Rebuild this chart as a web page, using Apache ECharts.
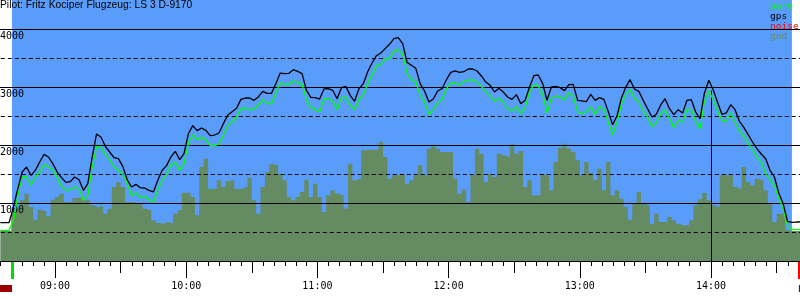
<!DOCTYPE html>
<html><head><meta charset="utf-8">
<style>html,body{margin:0;padding:0;background:#fff}#c{width:800px;height:300px}</style>
<script src="https://cdn.jsdelivr.net/npm/echarts@6/dist/echarts.min.js"></script>
</head><body><div id="c"></div>
<script>
const titleText = 'Pilot: Fritz Kociper Flugzeug: LS 3 D-9170';
const sampleStart = '08:35';
const sampleStepMin = 2;
const gps = [661,661,661,931,1247,1534,1621,1477,1563,1707,1839,1793,1678,1534,1437,1356,1368,1448,1402,1218,
1333,1793,2190,2138,1977,1879,1782,1764,1632,1402,1276,1322,1264,1259,1218,1190,1391,1563,1644,1793,
1891,1747,1851,2195,2333,2247,2293,2253,2161,2172,2207,2368,2517,2575,2632,2787,2810,2810,2770,2828,
2925,2891,2891,3057,3241,3230,3236,3299,3270,3230,2943,2822,2816,2793,2966,2971,2943,2799,2989,3011,
2856,2753,2971,3057,3264,3414,3540,3586,3661,3736,3833,3851,3747,3425,3374,3322,3057,2931,2741,2793,
2931,2971,3126,3253,3276,3253,3264,3310,3310,3276,3190,3086,3029,2914,2977,2914,2828,2787,2868,2713,
2770,3000,3195,3207,3063,2770,3000,3011,2989,2937,3040,3046,2770,2759,2747,2874,2770,2816,2787,2580,
2350,2500,2805,2994,3126,2966,2925,2770,2626,2483,2529,2690,2799,2626,2523,2609,2552,2770,2782,2569,
2454,2897,3115,2954,2736,2529,2552,2695,2609,2408,2305,2178,2052,1937,1845,1764,1563,1448,1172,989,
684,667,672,672];
const baro = [529,529,529,701,1132,1448,1448,1305,1448,1534,1667,1621,1575,1437,1287,1218,1230,1276,1241,1046,
1132,1621,1966,1966,1839,1747,1621,1563,1494,1333,1132,1172,1103,1115,1057,1017,1218,1391,1500,1649,
1707,1563,1678,2034,2184,2092,2132,2092,1989,1989,2017,2167,2339,2402,2471,2626,2638,2603,2621,2684,
2787,2713,2713,2897,3069,3046,3046,3098,3080,3046,2782,2649,2609,2569,2793,2799,2753,2609,2816,2828,
2684,2609,2793,2856,3063,3213,3368,3385,3489,3489,3615,3644,3563,3241,3132,3092,2856,2747,2529,2615,
2724,2787,2971,3063,3069,3040,3092,3121,3121,3080,3011,2914,2856,2753,2805,2741,2621,2592,2661,2540,
2644,2914,3040,3017,2874,2552,2810,2845,2828,2782,2902,2845,2569,2534,2580,2661,2529,2661,2621,2397,
2178,2385,2707,2868,2954,2810,2741,2586,2477,2316,2385,2534,2609,2448,2299,2431,2397,2609,2609,2402,
2282,2759,2937,2782,2580,2425,2414,2557,2397,2236,2161,2034,1914,1793,1701,1506,1402,1299,1086,891,
609,540,540,540];
const gnd = [517,517,517,816,902,1046,1161,931,713,885,862,770,1057,1103,1161,1017,1017,1086,1092,1046,
1046,960,931,943,816,902,1276,1362,1276,1017,1017,1000,989,902,874,701,661,644,672,661,
816,874,1178,1178,1103,787,1621,1764,1247,1247,1391,1276,1379,1391,1247,1247,1276,1437,1046,816,
1276,1534,1667,1661,1506,1391,1103,1046,1103,1190,1402,1103,1333,1103,845,1132,1218,1161,1132,902,
1678,1391,1420,1908,1920,1920,1920,2052,1793,1420,1477,1477,1506,1333,1391,1477,1649,1477,1937,2006,
1937,1879,1879,1879,1420,1161,1230,1017,1477,1937,1851,1362,1506,1448,1851,1822,1793,2011,1851,1897,
1276,1391,1132,1132,1494,1477,1218,1707,1954,2023,1937,1879,1736,1477,1707,1517,1391,1592,1218,1707,
1132,1218,1075,931,713,989,1190,989,960,644,816,672,672,759,701,644,615,615,701,960,
1063,1172,1046,960,931,1477,1477,1477,1276,1247,1621,1362,1305,1420,1391,1218,989,672,816,816,
529,517,517,517];
const noise = [];
const takeoffTime = '08:40:20';
const landingTime = '14:37:00';
const endMarkTime = '14:40:12';
const cursorTime = '14:00:00';
const cursorAlt = 2937;
const minorTickStepMin = 5;

const BLUE = '#5a9cfa', GNDC = '#658b63', GREEN = '#00ff00';
function toMin(s){const p=s.split(':').map(Number);return p[0]*60+p[1]+(p[2]||0)/60;}
function fmt(v){const h=Math.floor(v/60),m=Math.round(v%60);return String(h).padStart(2,'0')+':'+String(m).padStart(2,'0');}
const t0 = toMin(sampleStart);
const pair = arr => arr.map((v,i)=>[t0+i*sampleStepMin, v]);
const tOff = toMin(takeoffTime), tLand = toMin(landingTime), tEnd = toMin(endMarkTime), tCur = toMin(cursorTime);
const XMIN = 480, XMAX = 900;
const GL = -76.2, GR = -42.2;
const mono = 'DejaVu Sans Mono';
const minorTimes = [];
for (let t = XMIN; t <= XMAX; t += minorTickStepMin) if (t % 30 !== 0) minorTimes.push(t);

const chart = echarts.init(document.getElementById('c'), null, {renderer:'canvas'});
chart.setOption({
  animation:false,
  backgroundColor:'#ffffff',
  title:{text:titleText,left:0,top:0,padding:0,z:10,
    textStyle:{fontFamily:'Liberation Sans',fontSize:10.3,fontWeight:'normal',color:'#000',lineHeight:11}},
  legend:{orient:'vertical',left:765,top:2,itemGap:0,itemWidth:0,itemHeight:10,padding:0,selectedMode:false,icon:'rect',
    itemStyle:{borderWidth:0},lineStyle:{width:0},
    textStyle:{fontFamily:mono,fontSize:9.5,lineHeight:10,padding:0},
    data:[{name:'baro',textStyle:{color:GREEN}},{name:'gps',textStyle:{color:'#000'}},
          {name:'noise',textStyle:{color:'#ff0000'}},{name:'gnd',textStyle:{color:GNDC}}]},
  grid:[{left:GL,right:GR,top:0,height:261,containLabel:false,outerBoundsMode:'none'},
        {left:GL,right:GR,top:261,height:31,containLabel:false,outerBoundsMode:'none'}],
  xAxis:[
    {gridIndex:0,type:'value',position:'bottom',min:XMIN,max:XMAX,interval:60,
      axisLine:{show:true,onZero:false,lineStyle:{color:'#000',width:1}},
      axisTick:{show:true,length:17,lineStyle:{color:'#000',width:1}},
      axisLabel:{show:true,margin:20,formatter:v=>fmt(v),color:'#000',fontFamily:mono,fontSize:10,lineHeight:10},
      splitLine:{show:false}},
    {gridIndex:1,type:'value',position:'top',min:XMIN,max:XMAX,interval:30,
      axisLine:{show:false,onZero:false},axisTick:{show:true,inside:true,length:12,lineStyle:{color:'#000',width:1}},
      axisLabel:{show:false},splitLine:{show:false}}
  ],
  yAxis:[
    {gridIndex:0,type:'value',position:'left',min:0,max:4500,interval:1000,offset:GL,z:3,
      axisLine:{show:false},axisTick:{show:false},
      axisLabel:{show:true,inside:true,margin:0,align:'left',verticalAlign:'top',padding:[2,0,0,0],
        color:'#000',fontFamily:mono,fontSize:10,lineHeight:10,
        formatter:v=>(v>0&&v%1000===0)?String(v):''},
      splitLine:{show:true,showMaxLine:false,showMinLine:false,lineStyle:{color:'#000',width:1,type:'solid'}}},
    {gridIndex:0,type:'value',position:'right',min:0,max:4500,interval:500,z:3,
      axisLine:{show:false},axisTick:{show:false},axisLabel:{show:false},
      splitLine:{show:true,showMaxLine:false,showMinLine:false,lineStyle:{color:'#000',width:1,type:[4,3]}}},
    {gridIndex:1,type:'value',min:0,max:31,inverse:true,show:false}
  ],
  series:[
    {name:'bg',type:'line',xAxisIndex:0,yAxisIndex:0,data:[],z:1,silent:true,
      markArea:{silent:true,itemStyle:{color:BLUE,opacity:1},label:{show:false},
        data:[[{xAxis:tOff},{xAxis:tLand}]]}},
    {name:'gnd',type:'line',xAxisIndex:0,yAxisIndex:0,data:pair(gnd),step:'middle',symbol:'none',z:2,
      color:GNDC,lineStyle:{width:0},areaStyle:{color:GNDC,opacity:1}},
    {name:'baro',type:'line',xAxisIndex:0,yAxisIndex:0,data:pair(baro),symbol:'none',z:5,color:GREEN,
      lineStyle:{color:GREEN,width:1.3},
      markLine:{silent:true,symbol:'none',label:{show:false},lineStyle:{color:'#000',width:1,type:'solid'},
        data:[[{coord:[tCur,cursorAlt]},{coord:[tCur,0]}]]}},
    {name:'gps',type:'line',xAxisIndex:0,yAxisIndex:0,data:pair(gps),symbol:'none',z:6,color:'#000',
      lineStyle:{color:'#000',width:1.3}},
    {name:'noise',type:'line',xAxisIndex:0,yAxisIndex:0,data:noise,symbol:'none',z:6,color:'#ff0000'},
    {name:'ticks',type:'custom',xAxisIndex:1,yAxisIndex:2,z:4,silent:true,clip:false,
      data:minorTimes.map(t=>[t,5]),
      renderItem:(params,api)=>{
        const a = api.coord([api.value(0),0]), b = api.coord([api.value(0),api.value(1)]);
        const x = Math.round(a[0]) + 0.5;
        return {type:'line',shape:{x1:x,y1:a[1],x2:x,y2:b[1]},style:{stroke:'#000',lineWidth:1}};
      }},
    {name:'marks',type:'line',xAxisIndex:1,yAxisIndex:2,data:[],z:5,silent:true,
      markLine:{silent:true,symbol:'none',label:{show:false},
        data:[[{coord:[tOff,1],lineStyle:{color:'#00dd00',width:3,type:'solid'}},{coord:[tOff,18]}],
              [{coord:[tEnd,1],lineStyle:{color:'#ff0000',width:2,type:'solid'}},{coord:[tEnd,18]}]]},
      markArea:{silent:true,itemStyle:{color:'#990000',opacity:1},label:{show:false},
        data:[[{coord:[XMIN,24]},{coord:[tOff,31]}],[{coord:[tEnd,24]},{coord:[XMAX,31]}]]}}
  ]
});
</script></body></html>
